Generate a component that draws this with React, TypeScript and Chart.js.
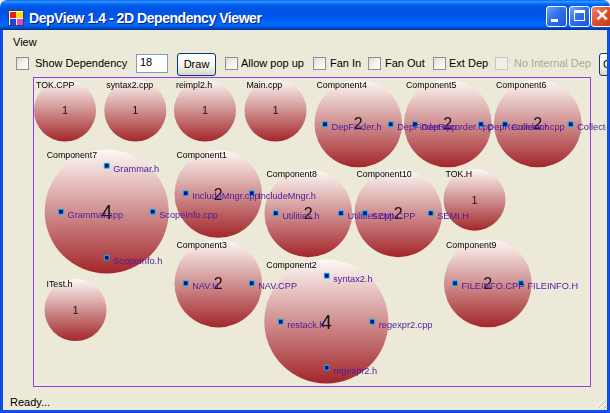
import React, { useEffect, useRef } from "react";
import { Chart, registerables } from "chart.js";

Chart.register(...registerables);

// ---- Data ----
const componentNames = [
  "TOK.CPP", "syntax2.cpp", "reimpl2.h", "Main.cpp",
  "Component4", "Component5", "Component6",
  "Component7", "Component1", "Component8", "Component10", "TOK.H",
  "Component3", "Component2", "Component9", "ITest.h",
];
const componentX = [65, 135.3, 205, 275.5, 358.3, 447.8, 537.8, 106.7, 218.3, 308.3, 398.3, 474.5, 218.3, 326.3, 487.8, 75.5];
const componentY = [110.5, 110.5, 110.5, 110.5, 123.5, 123.5, 123.5, 211.5, 194, 213.3, 213.3, 199.7, 283.6, 321.5, 283.4, 310];
const componentCount = [1, 1, 1, 1, 2, 2, 2, 4, 2, 2, 2, 1, 2, 4, 2, 1];

const fileNames = [
  "DepFinder.h", "DepFinder.cpp",
  "DepRecorder.cpp", "DepRecorder.h",
  "Collector.cpp", "Collector.h",
  "Grammar.h", "Grammar.cpp", "ScopeInfo.cpp", "ScopeInfo.h",
  "IncludeMngr.cpp", "IncludeMngr.h",
  "Utilities.h", "Utilities.cpp",
  "SEMI.CPP", "SEMI.H",
  "NAV.H", "NAV.CPP",
  "syntax2.h", "restack.h", "regexpr2.cpp", "regexpr2.h",
  "FILEINFO.CPP", "FILEINFO.H",
];
const fileX = [325, 390.7, 415, 481, 505, 570.7, 106.7, 61, 152.7, 106.7, 185.7, 251.7, 275.7, 341, 365, 430.7, 185.7, 251.7, 326.7, 280.7, 372.3, 326.7, 455, 521];
const fileY = [124.3, 124.3, 124.3, 124.3, 124.3, 124.3, 165.7, 211.7, 211.7, 257.7, 193.3, 193.3, 213.3, 213.3, 213.3, 213.3, 283.3, 283.3, 275.7, 321.7, 321.7, 367.7, 283.3, 283.3];

// ---- Styles ----
const BASE_R = 31;
const COUNT_FONT: Record<number, number> = { 1: 11, 2: 16, 4: 20 };
const FONT = "'Liberation Sans', Arial, sans-serif";

const gradientPlugin = {
  id: "bubbleGradient",
  beforeDatasetsDraw(chart: any) {
    const ctx = chart.ctx as CanvasRenderingContext2D;
    const comp = chart.getDatasetMeta(0);
    comp.data.forEach((el: any) => {
      const r = el.options.radius;
      if (!isFinite(el.y) || !isFinite(r)) return;
      const g = ctx.createLinearGradient(0, el.y - r, 0, el.y + r);
      g.addColorStop(0, "#fdf9f6");
      g.addColorStop(1, "#a3262a");
      el.options.backgroundColor = g;
    });
  },
};

const labelPlugin = {
  id: "depLabels",
  afterDatasetsDraw(chart: any) {
    const ctx = chart.ctx as CanvasRenderingContext2D;
    ctx.save();
    const comp = chart.getDatasetMeta(0);
    comp.data.forEach((el: any, i: number) => {
      const r = el.options.radius;
      ctx.textAlign = "left";
      ctx.textBaseline = "alphabetic";
      ctx.fillStyle = "#000";
      ctx.font = `8.8px ${FONT}`;
      ctx.fillText(componentNames[i], el.x - r + 2, el.y - r + 8);
      const fs = COUNT_FONT[componentCount[i]] || 12;
      ctx.font = `${fs}px ${FONT}`;
      ctx.textAlign = "center";
      ctx.fillStyle = "#151515";
      ctx.fillText(String(componentCount[i]), el.x, el.y + fs * 0.36);
    });
    const files = chart.getDatasetMeta(1);
    ctx.textAlign = "left";
    ctx.font = `9.2px ${FONT}`;
    ctx.fillStyle = "#4b1aa0";
    files.data.forEach((el: any, i: number) => {
      ctx.fillText(fileNames[i], el.x + 6.5, el.y + 6);
    });
    ctx.restore();
  },
};

function Checkbox({ x, disabled }: { x: number; disabled?: boolean }) {
  return (
    <div
      style={{
        position: "absolute",
        left: x,
        top: 57,
        width: 13,
        height: 13,
        boxSizing: "border-box",
        border: disabled ? "1px solid #cac8bb" : "1px solid #8f8f8f",
        background: disabled ? "#f0efe8" : "linear-gradient(135deg,#dcdbd3 0%,#f6f6f3 60%,#ffffff 100%)",
      }}
    />
  );
}

function Label({ x, text, disabled }: { x: number; text: string; disabled?: boolean }) {
  return (
    <div
      style={{
        position: "absolute",
        left: x,
        top: 57,
        height: 13,
        lineHeight: "13px",
        fontSize: 11,
        whiteSpace: "nowrap",
        color: disabled ? "#aca899" : "#000",
      }}
    >
      {text}
    </div>
  );
}

function WinButton({ x, kind }: { x: number; kind: "min" | "max" | "close" }) {
  const isClose = kind === "close";
  return (
    <div
      style={{
        position: "absolute",
        left: x,
        top: 6,
        width: 21,
        height: 21,
        boxSizing: "border-box",
        border: "1px solid #ffffff",
        borderRadius: 3,
        background: isClose
          ? "linear-gradient(135deg,#f08a6a 0%,#e2502c 45%,#c73a18 100%)"
          : "linear-gradient(135deg,#6ea4ff 0%,#2f6ff0 45%,#1e55d8 100%)",
      }}
    >
      {kind === "min" && (
        <div style={{ position: "absolute", left: 4, top: 12, width: 7, height: 3, background: "#fff" }} />
      )}
      {kind === "max" && (
        <div
          style={{
            position: "absolute",
            left: 4,
            top: 3,
            width: 11,
            height: 11,
            boxSizing: "border-box",
            borderLeft: "1px solid #fff",
            borderRight: "1px solid #fff",
            borderBottom: "1px solid #fff",
            borderTop: "3px solid #fff",
          }}
        />
      )}
      {isClose && (
        <div
          style={{
            position: "absolute",
            left: 0,
            top: -1,
            width: 19,
            height: 19,
            color: "#fff",
            fontSize: 17,
            fontWeight: "bold",
            lineHeight: "19px",
            textAlign: "center",
            fontFamily: FONT,
          }}
        >
          ✕
        </div>
      )}
    </div>
  );
}

export default function App() {
  const canvasRef = useRef<HTMLCanvasElement | null>(null);

  useEffect(() => {
    const canvas = canvasRef.current;
    if (!canvas) return;
    const chart = new Chart(canvas, {
      type: "bubble",
      data: {
        datasets: [
          {
            label: "components",
            data: componentNames.map((_, i) => ({
              x: componentX[i],
              y: componentY[i],
              r: BASE_R * Math.sqrt(componentCount[i]),
            })),
            // scriptable so every bubble gets its own options object (gradient set in plugin)
            backgroundColor: () => "#c87070",
            borderWidth: 0,
            hoverBorderWidth: 0,
            clip: false,
            order: 1,
          } as any,
          {
            type: "scatter",
            label: "files",
            data: fileNames.map((_, i) => ({ x: fileX[i], y: fileY[i] })),
            pointStyle: "rect",
            pointRadius: 3.4,
            backgroundColor: "#0a0a9a",
            borderColor: "#10c0d0",
            borderWidth: 1,
            showLine: false,
            clip: false,
            order: 0,
          } as any,
        ],
      },
      options: {
        animation: false,
        responsive: false,
        devicePixelRatio: 1,
        events: [],
        layout: { padding: 0, autoPadding: false },
        plugins: { legend: { display: false }, tooltip: { enabled: false } },
        scales: {
          x: { type: "linear", min: 4, max: 606, display: false },
          y: { type: "linear", min: 77, max: 387, reverse: true, display: false },
        },
      },
      plugins: [gradientPlugin, labelPlugin],
    });
    return () => chart.destroy();
  }, []);

  return (
    <div
      style={{
        position: "absolute",
        left: 0,
        top: 0,
        width: 610,
        height: 413,
        overflow: "hidden",
        background: "#ece9d8",
        fontFamily: FONT,
        fontSize: 11,
        color: "#000",
      }}
    >
      {/* Title bar */}
      <div
        style={{
          position: "absolute",
          left: 0,
          top: 0,
          width: 610,
          height: 30,
          borderTopLeftRadius: 7,
          borderTopRightRadius: 7,
          background:
            "linear-gradient(to bottom,#0058ee 0%,#3593ff 4%,#288eff 7%,#127dff 10%,#036ffc 13%,#0262ee 17%,#0057e5 22%,#0054e3 28%,#0055eb 56%,#005bf5 66%,#026afe 76%,#0062ef 86%,#0052d6 92%,#0040ab 96%,#003092 100%)",
        }}
      />
      {/* Icon */}
      <div style={{ position: "absolute", left: 8, top: 10, width: 16, height: 16, background: "#ffffff", border: "1px solid #404040", boxSizing: "border-box" }}>
        <div style={{ position: "absolute", left: 1, top: 1, width: 6, height: 6, background: "#e02020" }} />
        <div style={{ position: "absolute", left: 7, top: 1, width: 7, height: 6, background: "#f0e020" }} />
        <div style={{ position: "absolute", left: 1, top: 8, width: 6, height: 6, background: "#2040e0" }} />
        <div style={{ position: "absolute", left: 8, top: 8, width: 6, height: 6, background: "#e040e0" }} />
      </div>
      <div
        style={{
          position: "absolute",
          left: 29,
          top: 10,
          fontSize: 14,
          fontWeight: "bold",
          letterSpacing: "-0.45px",
          color: "#ffffff",
          whiteSpace: "nowrap",
          lineHeight: "17px",
          textShadow: "1px 1px #0a1a80",
        }}
      >
        DepView 1.4 - 2D Dependency Viewer
      </div>
      <WinButton x={546} kind="min" />
      <WinButton x={569} kind="max" />
      <WinButton x={591} kind="close" />

      {/* Menu */}
      <div style={{ position: "absolute", left: 13, top: 35, fontSize: 11, lineHeight: "14px" }}>View</div>

      {/* Toolbar */}
      <Checkbox x={16} />
      <Label x={35} text="Show Dependency" />
      <div
        style={{
          position: "absolute",
          left: 136,
          top: 54,
          width: 32,
          height: 19,
          boxSizing: "border-box",
          border: "1px solid #7f9db9",
          background: "#fff",
          paddingLeft: 3,
          lineHeight: "15px",
          fontSize: 11,
        }}
      >
        18
      </div>
      <div
        style={{
          position: "absolute",
          left: 177,
          top: 53,
          width: 39,
          height: 23,
          boxSizing: "border-box",
          border: "1px solid #003c74",
          borderRadius: 3,
          background: "linear-gradient(to bottom,#ffffff 0%,#f3f2ec 60%,#d8d4c6 100%)",
          textAlign: "center",
          lineHeight: "21px",
          fontSize: 11,
        }}
      >
        Draw
      </div>
      <Checkbox x={225} />
      <Label x={241} text="Allow pop up" />
      <Checkbox x={313} />
      <Label x={330} text="Fan In" />
      <Checkbox x={368} />
      <Label x={385} text="Fan Out" />
      <Checkbox x={433} />
      <Label x={449} text="Ext Dep" />
      <Checkbox x={495} disabled />
      <Label x={514} text="No Internal Dep" disabled />
      <div
        style={{
          position: "absolute",
          left: 599,
          top: 53,
          width: 40,
          height: 23,
          boxSizing: "border-box",
          border: "1px solid #003c74",
          borderRadius: 3,
          background: "linear-gradient(to bottom,#ffffff 0%,#f3f2ec 60%,#d8d4c6 100%)",
          paddingLeft: 3,
          lineHeight: "21px",
          fontSize: 11,
        }}
      >
        Close
      </div>

      {/* Plot frame */}
      <div
        style={{
          position: "absolute",
          left: 33,
          top: 77,
          width: 558,
          height: 310,
          boxSizing: "border-box",
          border: "1.5px solid #9040ea",
        }}
      />
      <canvas
        ref={canvasRef}
        width={602}
        height={310}
        style={{ position: "absolute", left: 4, top: 77, width: 602, height: 310 }}
      />

      {/* Status bar */}
      <div style={{ position: "absolute", left: 10, top: 395, fontSize: 11, lineHeight: "14px" }}>Ready...</div>
      <div
        style={{
          position: "absolute",
          left: 595,
          top: 397,
          width: 11,
          height: 11,
          background:
            "repeating-linear-gradient(135deg, transparent 0px, transparent 2px, #c4c0ae 2px, #c4c0ae 3px, #ffffff 3px, #ffffff 4px)",
          clipPath: "polygon(100% 0, 100% 100%, 0 100%)",
        }}
      />

      {/* Window frame */}
      <div style={{ position: "absolute", left: 0, top: 30, width: 3, height: 383, background: "linear-gradient(to right,#0831d9,#1658e8,#0a46d8)" }} />
      <div style={{ position: "absolute", left: 607, top: 30, width: 3, height: 383, background: "linear-gradient(to right,#0a46d8,#1658e8,#0831d9)" }} />
      <div style={{ position: "absolute", left: 0, top: 410, width: 610, height: 3, background: "linear-gradient(to bottom,#0a46d8,#1658e8,#0831d9)" }} />
    </div>
  );
}
